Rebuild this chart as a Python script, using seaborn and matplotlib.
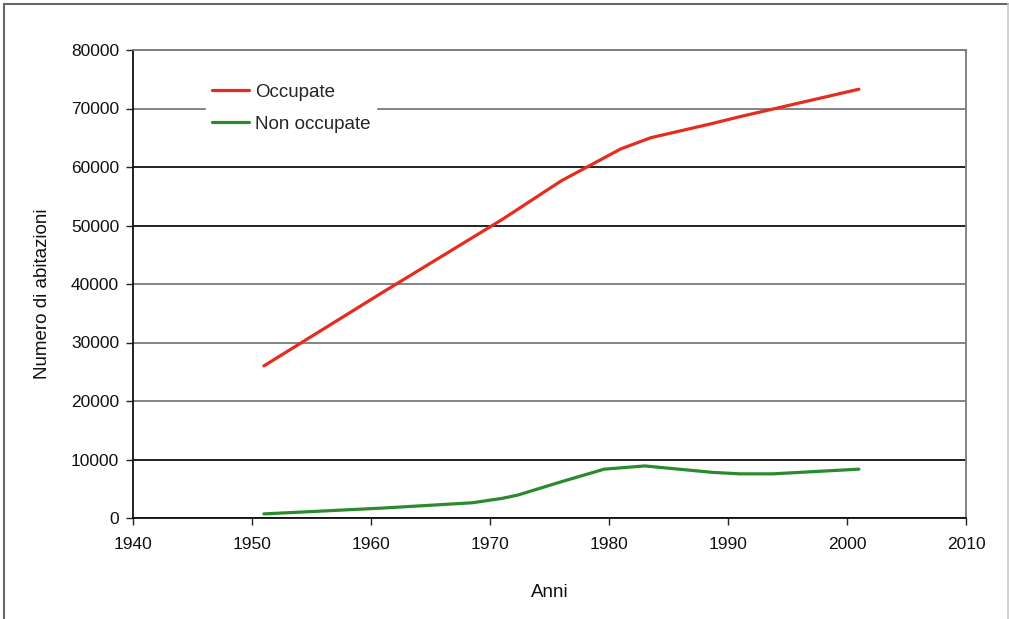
import pandas as pd
import numpy as np
import matplotlib.pyplot as plt
import seaborn as sns
from matplotlib.lines import Line2D

# values (vertices of the drawn curves)
anni_occ = [1951, 1961, 1971, 1976, 1981, 1983.5, 1988.5, 1991, 2001]
occupate = [26000, 38600, 51000, 57650, 63100, 65000, 67350, 68600, 73300]

anni_non = [1951, 1961, 1968.5, 1971, 1972.3, 1976, 1979.6, 1983, 1988.7, 1991, 1993.8, 2001]
non_occupate = [700, 1700, 2600, 3350, 3900, 6200, 8350, 8900, 7800, 7550, 7550, 8350]

x_ticks = [1940, 1950, 1960, 1970, 1980, 1990, 2000, 2010]
y_ticks = [0, 10000, 20000, 30000, 40000, 50000, 60000, 70000, 80000]


def build_df() -> pd.DataFrame:
    df_occ = pd.DataFrame({'Anni': anni_occ, 'Numero': occupate, 'serie': 'Occupate'})
    df_non = pd.DataFrame({'Anni': anni_non, 'Numero': non_occupate, 'serie': 'Non occupate'})
    return pd.concat([df_occ, df_non], ignore_index=True)


sns.set_theme(style='white')
plt.rcParams['font.family'] = ['Liberation Sans', 'DejaVu Sans']

df = build_df()

fig = plt.figure(figsize=(10.09, 6.19), dpi=100)
ax = fig.add_axes([133 / 1009, 1 - 518 / 619, 833 / 1009, 468 / 619])

colori = {'Occupate': '#e42d1e', 'Non occupate': '#2b8a2e'}
sns.lineplot(data=df, x='Anni', y='Numero', hue='serie', palette=colori,
             sort=False, estimator=None, linewidth=2.3, ax=ax)

ax.set_xlim(1940, 2010)
ax.set_ylim(0, 80000)
ax.set_xticks(x_ticks)
ax.set_yticks(y_ticks)
ax.tick_params(axis='both', labelsize=12.5, colors='#222222', direction='out',
               length=5, width=1, left=True, bottom=True)
ax.tick_params(axis='both', labelcolor='#111111')
ax.tick_params(axis='x', pad=9)
ax.tick_params(axis='y', pad=5)

# horizontal gridlines, some darker some gray as in the picture
ax.yaxis.grid(True, linewidth=1.3)
grid_col = {0: '#111111', 10000: '#111111', 20000: '#7a7a7a', 30000: '#7a7a7a',
            40000: '#7a7a7a', 50000: '#111111', 60000: '#111111',
            70000: '#7a7a7a', 80000: '#7a7a7a'}
for val, gl in zip(y_ticks, ax.get_ygridlines()):
    gl.set_color(grid_col[val])

for s in ['left', 'bottom']:
    ax.spines[s].set_color('#111111')
    ax.spines[s].set_linewidth(1.3)
for s in ['top', 'right']:
    ax.spines[s].set_color('#7a7a7a')
    ax.spines[s].set_linewidth(1.3)

ax.set_xlabel('Anni', fontsize=13.5, color='#111111')
ax.set_ylabel('Numero di abitazioni', fontsize=13.5, color='#111111')
ax.xaxis.set_label_coords(0.5, -0.14)
ax.yaxis.set_label_coords(-0.098, 0.48)

leg = ax.legend(loc='upper left', bbox_to_anchor=(206 / 1009, 1 - 78 / 619),
                bbox_transform=fig.transFigure, frameon=True, fontsize=13.5,
                handlelength=2.0, handletextpad=0.3, labelspacing=0.8,
                borderpad=0.3, borderaxespad=0)
leg.get_frame().set_facecolor('white')
leg.get_frame().set_edgecolor('white')
leg.get_frame().set_alpha(1)
for h in leg.get_lines():
    h.set_linewidth(2.3)

# outer frame of the picture
fig.add_artist(Line2D([4 / 1009, 4 / 1009], [0, 1 - 4 / 619], color='#666666', lw=1.5))
fig.add_artist(Line2D([4 / 1009, 1008 / 1009], [1 - 4 / 619, 1 - 4 / 619], color='#666666', lw=1.5))
fig.add_artist(Line2D([1007.5 / 1009, 1007.5 / 1009], [0, 1 - 4 / 619], color='#c8c8c8', lw=1.2))

fig.savefig('out.png', dpi=100, facecolor='white')
